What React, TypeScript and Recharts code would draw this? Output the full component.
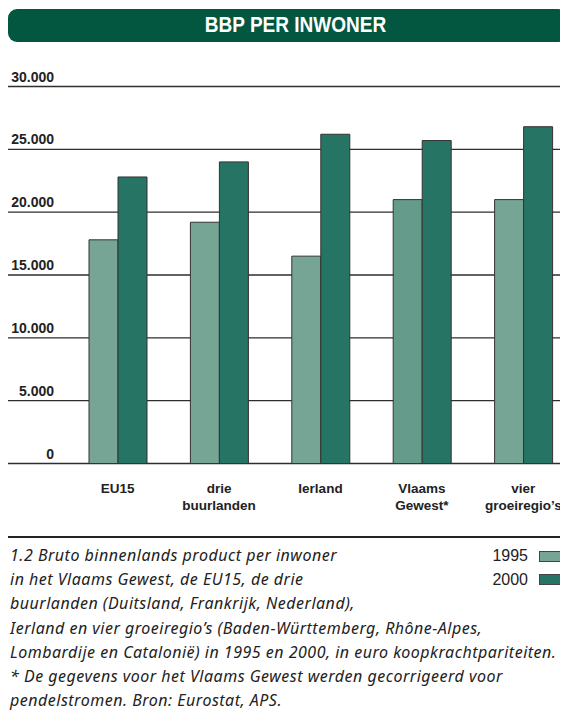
import React from 'react';
import { BarChart, Bar, XAxis, YAxis, CartesianGrid, Cell } from 'recharts';

const categories = ['EU15', 'drie\nbuurlanden', 'Ierland', 'Vlaams\nGewest*', 'vier\ngroeiregio’s'];
const values1995 = [17800, 19200, 16500, 21000, 21000];
const values2000 = [22800, 24000, 26200, 25700, 26800];
const yTicks = [0, 5000, 10000, 15000, 20000, 25000, 30000];
const seriesNames = ['1995', '2000'];
const title = 'BBP PER INWONER';
const captionLines = [
  '1.2  Bruto binnenlands product per inwoner',
  'in het Vlaams Gewest, de EU15, de drie',
  'buurlanden (Duitsland, Frankrijk, Nederland),',
  'Ierland en vier groeiregio’s (Baden-Württemberg, Rhône-Alpes,',
  'Lombardije en Catalonië) in 1995 en 2000, in euro koopkrachtpariteiten.',
  '* De gegevens voor het Vlaams Gewest werden gecorrigeerd voor',
  'pendelstromen. Bron: Eurostat, APS.',
];

const COLORS = { s1995: '#76a596', s1995alt: '#659b8b', s2000: '#267464' };
const data = categories.map((c, i) => ({ name: c, v1995: values1995[i], v2000: values2000[i] }));

const fmt = (v: number) => String(v).replace(/\B(?=(\d{3})+(?!\d))/g, '.');

const YTick = (props: any) => {
  const { y, payload } = props;
  return (
    <text x={46} y={y - 5} textAnchor="end" fill="#222" fontSize={14} fontWeight="bold"
      fontFamily="'Liberation Sans', Arial, sans-serif">
      {fmt(payload.value)}
    </text>
  );
};

const XTick = (props: any) => {
  const { x, y, payload } = props;
  const lines = String(payload.value).split('\n');
  return (
    <text x={x} y={y + 29.5} textAnchor="middle" fill="#222" fontSize={13.5} fontWeight="bold"
      fontFamily="'Liberation Sans', Arial, sans-serif">
      {lines.map((l, i) => (
        <tspan key={i} x={x} dy={i === 0 ? 0 : 17}>{l}</tspan>
      ))}
    </text>
  );
};

export default function App() {
  const legendColors = [COLORS.s1995, COLORS.s2000];
  return (
    <div style={{ position: 'relative', width: 560, height: 710, overflow: 'hidden', fontFamily: "'Liberation Sans', Arial, sans-serif" }}>
      <div style={{ position: 'absolute', top: 1, left: 0, width: 559, height: 33, background: '#03563f', borderRadius: 9,
        color: '#fff', textAlign: 'center', lineHeight: '33px', fontSize: 21.5, fontWeight: 'bold',
        paddingLeft: 16, boxSizing: 'border-box' }}>
        <span style={{ display: 'inline-block', transform: 'scaleX(0.885)' }}>{title}</span>
      </div>
      <div style={{ position: 'absolute', top: 0, left: 0 }}>
        <BarChart width={566} height={515.5} data={data} margin={{ top: 78.5, right: 0, bottom: 0, left: -1 }} barGap={0}>
          <CartesianGrid vertical={false} stroke="#2e2e2e" strokeWidth={1.3} />
          <YAxis type="number" domain={[0, 30000]} ticks={yTicks} width={1} axisLine={false} tickLine={false} tick={<YTick />} interval={0} />
          <XAxis dataKey="name" type="category" height={60} padding={{ left: 59, right: 0 }} axisLine={false} tickLine={false}
            tickSize={0} tickMargin={0} interval={0} tick={<XTick />} />
          <Bar dataKey="v1995" name={seriesNames[0]} barSize={29} fill={COLORS.s1995} stroke="#333" strokeWidth={1} isAnimationActive={false}>
            {data.map((d, i) => (
              <Cell key={i} fill={d.name.startsWith('Vlaams') ? COLORS.s1995alt : COLORS.s1995} />
            ))}
          </Bar>
          <Bar dataKey="v2000" name={seriesNames[1]} barSize={29} fill={COLORS.s2000} stroke="#333" strokeWidth={1} isAnimationActive={false} />
        </BarChart>
      </div>
      <div style={{ position: 'absolute', top: 528, left: 0, width: 560, height: 2, background: '#222' }} />
      <div style={{ position: 'absolute', top: 535, left: 2, fontSize: 16, fontStyle: 'italic', color: '#222', lineHeight: '24.2px', whiteSpace: 'nowrap',
        letterSpacing: 0.5, fontFamily: "'Noto Sans', 'Liberation Sans', sans-serif" }}>
        {captionLines.map((l, i) => (
          <div key={i}>{l}</div>
        ))}
      </div>
      {seriesNames.map((s, i) => (
        <React.Fragment key={s}>
          <div style={{ position: 'absolute', right: 40, top: 540.2 + i * 23.3, fontSize: 16, lineHeight: '16px', color: '#222' }}>{s}</div>
          <div style={{ position: 'absolute', left: 531, top: 543 + i * 23, width: 40, height: 11, background: legendColors[i], border: '1px solid #444', boxSizing: 'border-box' }} />
        </React.Fragment>
      ))}
    </div>
  );
}
